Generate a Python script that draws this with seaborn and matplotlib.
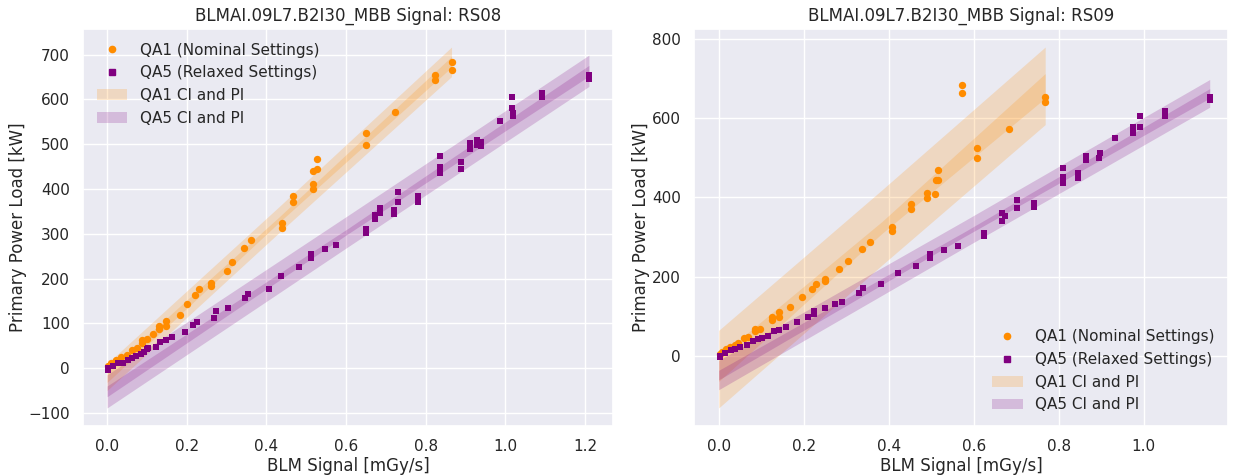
import numpy as np
import matplotlib
matplotlib.use("Agg")
import matplotlib.pyplot as plt
from matplotlib.patches import Patch
from matplotlib.lines import Line2D
import seaborn as sns

# ---------------- data ----------------
rs08_qa1_x = [0.002, 0.011, 0.023, 0.036, 0.050, 0.063, 0.076, 0.088, 0.088, 0.100,
              0.115, 0.130, 0.130, 0.147, 0.147, 0.182, 0.200, 0.222, 0.232, 0.262,
              0.262, 0.300, 0.313, 0.344, 0.361, 0.438, 0.438, 0.467, 0.467, 0.516,
              0.517, 0.517, 0.527, 0.527, 0.649, 0.649, 0.722, 0.823, 0.823, 0.865, 0.865]
rs08_qa1_y = [4, 11, 19, 25, 30, 40, 45, 55, 63, 64,
              76, 87, 94, 94, 106, 119, 143, 164, 177, 184,
              191, 216, 238, 268, 287, 313, 324, 370, 385, 400,
              411, 441, 444, 468, 499, 524, 572, 643, 655, 666, 684]

rs08_qa5_x = [0.002, 0.002, 0.016, 0.027, 0.040, 0.052, 0.063, 0.073, 0.086, 0.092,
              0.100, 0.103, 0.124, 0.134, 0.147, 0.164, 0.195, 0.217, 0.227, 0.268,
              0.274, 0.304, 0.346, 0.355, 0.406, 0.436, 0.481, 0.513, 0.513, 0.547,
              0.576, 0.651, 0.651, 0.672, 0.672, 0.685, 0.685, 0.720, 0.720, 0.730,
              0.730, 0.780, 0.780, 0.837, 0.837, 0.837, 0.890, 0.890, 0.911, 0.911,
              0.928, 0.928, 0.940, 0.940, 0.986, 1.016, 1.016, 1.020, 1.020, 1.091,
              1.091, 1.210, 1.210]
rs08_qa5_y = [-4, 0, 5, 11, 11, 17, 23, 26, 32, 36,
              42, 45, 48, 58, 63, 70, 81, 96, 104, 112,
              128, 134, 157, 166, 177, 205, 225, 245, 255, 266,
              275, 302, 310, 333, 341, 347, 358, 345, 354, 372,
              393, 372, 385, 435, 449, 474, 445, 461, 490, 503,
              498, 510, 497, 505, 551, 606, 581, 570, 562, 605,
              615, 645, 655]

rs09_qa1_x = [0.003, 0.009, 0.017, 0.027, 0.038, 0.046, 0.060, 0.070, 0.086, 0.086,
              0.098, 0.126, 0.126, 0.142, 0.142, 0.167, 0.197, 0.220, 0.228, 0.250,
              0.250, 0.283, 0.304, 0.337, 0.357, 0.408, 0.408, 0.452, 0.452, 0.491,
              0.491, 0.509, 0.511, 0.515, 0.515, 0.608, 0.608, 0.683, 0.768, 0.768,
              0.572, 0.572]
rs09_qa1_y = [4, 10, 16, 22, 28, 31, 45, 47, 62, 68,
              68, 89, 98, 98, 110, 123, 148, 169, 181, 188,
              194, 219, 240, 269, 288, 314, 326, 370, 384, 399,
              412, 408, 443, 445, 469, 500, 525, 572, 642, 655,
              665, 683]

rs09_qa5_x = [0.003, 0.003, 0.015, 0.028, 0.039, 0.051, 0.066, 0.080, 0.092, 0.101,
              0.116, 0.130, 0.143, 0.158, 0.185, 0.209, 0.225, 0.225, 0.251, 0.274,
              0.289, 0.331, 0.339, 0.381, 0.422, 0.465, 0.497, 0.497, 0.531, 0.562,
              0.623, 0.623, 0.667, 0.673, 0.667, 0.702, 0.702, 0.742, 0.742, 0.811,
              0.811, 0.811, 0.845, 0.845, 0.863, 0.863, 0.894, 0.898, 0.932, 0.975,
              0.975, 0.991, 0.991, 1.049, 1.049, 1.155, 1.155]
rs09_qa5_y = [-4, 0, 7, 14, 16, 22, 26, 37, 43, 46,
              51, 62, 66, 72, 85, 97, 106, 113, 120, 131,
              137, 159, 170, 181, 208, 227, 247, 257, 267, 278,
              302, 310, 340, 353, 361, 374, 393, 376, 386, 437,
              451, 474, 448, 462, 495, 504, 500, 512, 551, 562,
              577, 579, 606, 605, 618, 645, 655]

# regression bands: x, fitted value, CI half-width, PI half-width
rs08_qa1_band_x = [0.0, 0.43, 0.865]
rs08_qa1_fit = [-20, 330, 684]
rs08_qa1_ci = [12, 6, 12]
rs08_qa1_pi = [30, 29, 33]

rs08_qa5_band_x = [0.0, 0.605, 1.21]
rs08_qa5_fit = [-52, 306, 664]
rs08_qa5_ci = [12, 6, 12]
rs08_qa5_pi = [37, 35, 35]

rs09_qa1_band_x = [0.0, 0.384, 0.768]
rs09_qa1_fit = [-34, 324, 682]
rs09_qa1_ci = [31, 15, 31]
rs09_qa1_pi = [98, 95, 98]

rs09_qa5_band_x = [0.0, 0.578, 1.155]
rs09_qa5_fit = [-49, 307, 663]
rs09_qa5_ci = [12, 6, 12]
rs09_qa5_pi = [37, 34, 35]

titles = ["BLMAI.09L7.B2I30_MBB Signal: RS08", "BLMAI.09L7.B2I30_MBB Signal: RS09"]
qa1_label = "QA1 (Nominal Settings)"
qa5_label = "QA5 (Relaxed Settings)"
qa1_band_label = "QA1 CI and PI"
qa5_band_label = "QA5 CI and PI"
x_label = "BLM Signal [mGy/s]"
y_label = "Primary Power Load [kW]"

QA1_COLOR = "darkorange"
QA5_COLOR = "purple"


def draw_band(ax, bx, fit, ci, pi, col):
    bx = np.asarray(bx, float)
    fit = np.asarray(fit, float)
    ci = np.asarray(ci, float)
    pi = np.asarray(pi, float)
    xg = np.linspace(bx[0], bx[-1], 200)
    yg = np.interp(xg, bx, fit)
    cig = np.interp(xg, bx, ci)
    pig = np.interp(xg, bx, pi)
    ax.fill_between(xg, yg - pig, yg + pig, color=col, alpha=0.2, linewidth=0, zorder=1)
    ax.fill_between(xg, yg - cig, yg + cig, color=col, alpha=0.2, linewidth=0, zorder=1)


sns.set_theme(style="darkgrid", context="notebook")
plt.rcParams["font.family"] = ["DejaVu Sans"]

fig, axes = plt.subplots(1, 2, figsize=(12.45, 4.75), dpi=100)

panels = [
    dict(x1=rs08_qa1_x, y1=rs08_qa1_y, x5=rs08_qa5_x, y5=rs08_qa5_y,
         b1=(rs08_qa1_band_x, rs08_qa1_fit, rs08_qa1_ci, rs08_qa1_pi),
         b5=(rs08_qa5_band_x, rs08_qa5_fit, rs08_qa5_ci, rs08_qa5_pi)),
    dict(x1=rs09_qa1_x, y1=rs09_qa1_y, x5=rs09_qa5_x, y5=rs09_qa5_y,
         b1=(rs09_qa1_band_x, rs09_qa1_fit, rs09_qa1_ci, rs09_qa1_pi),
         b5=(rs09_qa5_band_x, rs09_qa5_fit, rs09_qa5_ci, rs09_qa5_pi)),
]

for ax, p, title in zip(axes, panels, titles):
    draw_band(ax, *p["b1"], QA1_COLOR)
    draw_band(ax, *p["b5"], QA5_COLOR)
    sns.scatterplot(x=p["x1"], y=p["y1"], ax=ax, color=QA1_COLOR, marker="o", s=28,
                    linewidth=0, zorder=3)
    sns.scatterplot(x=p["x5"], y=p["y5"], ax=ax, color=QA5_COLOR, marker="s", s=24,
                    linewidth=0, zorder=3)
    ax.set_title(title, fontsize=12)
    ax.set_xlabel(x_label, fontsize=12, labelpad=2)
    ax.set_ylabel(y_label, fontsize=12, labelpad=1)

handles = [
    Line2D([], [], linestyle="none", marker="o", color=QA1_COLOR, markersize=4.5),
    Line2D([], [], linestyle="none", marker="s", color=QA5_COLOR, markersize=4.5),
    Patch(facecolor=QA1_COLOR, alpha=0.2, edgecolor="none"),
    Patch(facecolor=QA5_COLOR, alpha=0.2, edgecolor="none"),
]
labels = [qa1_label, qa5_label, qa1_band_label, qa5_band_label]
axes[0].legend(handles, labels, loc="upper left", frameon=False, fontsize=11)
axes[1].legend(handles, labels, loc="lower right", frameon=False, fontsize=11)

axes[1].set_xlim(-0.058, 1.198)

axes[0].set_position([83 / 1245, 1 - 426 / 475, 530 / 1245, 397 / 475])
axes[1].set_position([694 / 1245, 1 - 426 / 475, 534 / 1245, 397 / 475])

fig.savefig("out.png", dpi=100)
